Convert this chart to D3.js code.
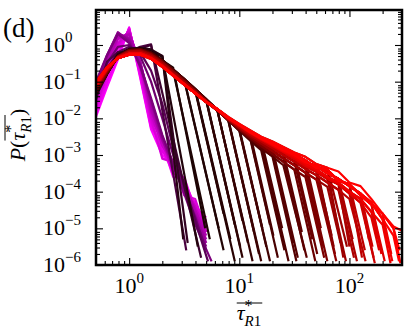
<!DOCTYPE html>
<html>
<head>
<meta charset="utf-8">
<script src="https://cdn.jsdelivr.net/npm/d3@7"></script>
<style>
  body { margin: 0; background: #fff; }
</style>
</head>
<body>
<div id="chart"></div>
<script>
// x bins shared by all curves (0.1 decade apart)
const xBins = [0.5, 0.63, 0.79, 1.0, 1.26, 1.58, 2.0, 2.51, 3.16, 3.98, 5.01, 6.31, 7.94, 10,
  12.6, 15.8, 20, 25.1, 31.6, 39.8, 50.1, 63.1, 79.4, 100, 126, 158, 200, 251, 316];

// magenta -> purple curves: t = colour position, p = log10 P on xBins, end = last point [x, log10 P]
const curvesPink = [
  { t: 0.00, p: [-1.95, -1.15, -0.4, 0.48, -0.9, -2.3, -3.0, -3.3, -3.9, -4.3, -4.9] },
  { t: 0.02, p: [-1.9, -1.05, -0.3, 0.46, -0.85, -2.25, -2.7, -3.6, -3.6, -4.5, -4.7] },
  { t: 0.04, p: [-1.85, -1.0, -0.25, 0.45, -0.8, -2.2, -2.8, -3.5, -3.7, -4.4, -4.8] },
  { t: 0.06, p: [-1.75, -0.85, -0.1, 0.42, -0.7, -2.1, -2.9, -3.3, -4.0, -4.3, -5.0] },
  { t: 0.08, p: [-1.7, -0.78, -0.02, 0.4, -0.65, -2.0, -3.1, -3.2, -4.1, -4.2, -5.1] },
  { t: 0.10, p: [-1.65, -0.7, 0.05, 0.38, -0.6, -1.95, -2.7, -3.4, -3.8, -4.5, -4.9] },
  { t: 0.12, p: [-1.5, -0.55, 0.15, 0.33, -0.5, -1.85, -2.75, -3.2, -3.9, -4.4, -5.1] },
  { t: 0.14, p: [-1.45, -0.5, 0.18, 0.3, -0.48, -1.8, -2.5, -3.5, -3.7, -4.6, -5.0] },
  { t: 0.16, p: [-1.4, -0.45, 0.22, 0.28, -0.45, -1.75, -2.6, -3.3, -3.85, -4.5, -5.2] },
  { t: 0.18, p: [-1.3, -0.35, 0.3, 0.2, -0.45, -1.65, -2.6, -3.25, -3.9, -4.6, -5.3] },
  { t: 0.21, p: [-1.15, -0.3, 0.33, 0.15, -0.5, -1.55, -2.55, -3.3, -4.0, -4.65, -5.4] },
  { t: 0.24, p: [-1.05, -0.28, 0.35, 0.1, -0.6, -1.5, -2.5, -3.2, -4.0, -4.8, -5.5] },
  { t: 0.27, p: [-1.0, -0.27, 0.3, 0.05, -0.55, -1.45, -2.45, -3.25, -4.05, -4.9], end: [5.6, -5.9] },
  { t: 0.30, p: [-1.1, -0.5, -0.05, 0.0, -0.3, -1.0, -2.0, -3.0, -3.9, -4.7, -5.6] },
  { t: 0.33, p: [-1.2, -0.65, -0.2, -0.05, -0.2, -0.7, -1.6, -2.8, -3.8, -4.8], end: [5.2, -5.9] }
];

// near-black curves with early cut-offs
const curvesDark = [
  { t: 0.36, p: [-1.5, -0.45, -0.2, -0.2, -0.05, 0.02], end: [3.3, -5.6] },
  { t: 0.38, p: [-1.4, -0.8, -0.2, -0.2, -0.1, 0.0], end: [4.5, -5.8] },
  { t: 0.40, p: [-1.3, -0.78, -0.27, -0.13, -0.1, -0.15, -0.3], end: [3.4, -5.4] },
  { t: 0.42, p: [-1.35, -0.8, -0.25, -0.1, -0.08, -0.12, -0.3], end: [3.1, -5.3] },
  { t: 0.43, p: [-1.3, -0.75, -0.28, -0.12, -0.1, -0.18, -0.32], end: [4.2, -5.5] },
  { t: 0.44, p: [-1.3, -0.75, -0.3, -0.14, -0.1, -0.2, -0.42, -0.62], end: [4.9, -5.0] },
  { t: 0.45, p: [-1.25, -0.72, -0.3, -0.15, -0.12, -0.22, -0.45, -0.7], end: [5.4, -5.3] }
];

// longer curves follow one of these profiles (log10 P on xBins) until their cut-off,
// from the steepest dark ones (P0) to the flattest red ones (P7..P9)
const P0 = [-1.3, -0.78, -0.3, -0.13, -0.11, -0.2, -0.42, -0.67, -0.93, -1.2, -1.48, -1.76, -2.05, -2.34, -2.61, -2.87, -3.12];
const P1 = [-1.27, -0.76, -0.31, -0.14, -0.12, -0.22, -0.44, -0.69, -0.95, -1.22, -1.5, -1.77, -2.04, -2.31, -2.57, -2.81, -3.04, -3.28, -3.5];
const P2 = [-1.24, -0.74, -0.31, -0.15, -0.13, -0.24, -0.46, -0.72, -0.98, -1.25, -1.52, -1.78, -2.05, -2.3, -2.54, -2.76, -2.97, -3.19, -3.4, -3.6];
const P3 = [-1.2, -0.71, -0.32, -0.17, -0.15, -0.26, -0.48, -0.74, -1.0, -1.26, -1.52, -1.77, -2.03, -2.27, -2.49, -2.69, -2.89, -3.09, -3.28, -3.48, -3.67, -3.87];
const P4 = [-1.15, -0.68, -0.33, -0.19, -0.18, -0.3, -0.53, -0.79, -1.05, -1.3, -1.55, -1.78, -2.02, -2.24, -2.45, -2.63, -2.81, -3.0, -3.18, -3.38, -3.55, -3.75, -3.95, -4.2];
const P5 = [-1.1, -0.65, -0.35, -0.23, -0.22, -0.34, -0.56, -0.81, -1.06, -1.31, -1.55, -1.76, -2.0, -2.2, -2.4, -2.58, -2.75, -2.92, -3.1, -3.3, -3.45, -3.65, -3.8, -4.05, -4.3, -4.7];
const P6 = [-1.05, -0.62, -0.36, -0.26, -0.26, -0.37, -0.59, -0.83, -1.08, -1.32, -1.56, -1.77, -1.99, -2.18, -2.38, -2.55, -2.7, -2.87, -3.0, -3.2, -3.3, -3.5, -3.65, -3.85, -4.05, -4.3, -4.75, -5.2];
const P7 = [-1.0, -0.6, -0.35, -0.27, -0.27, -0.38, -0.6, -0.84, -1.08, -1.32, -1.55, -1.74, -1.96, -2.15, -2.33, -2.5, -2.63, -2.78, -2.93, -3.05, -3.25, -3.35, -3.45, -3.75, -3.85, -4.2, -4.6, -4.95, -5.1];
const P8 = [-1.05, -0.62, -0.36, -0.26, -0.26, -0.36, -0.58, -0.83, -1.07, -1.31, -1.55, -1.75, -1.98, -2.17, -2.36, -2.53, -2.68, -2.83, -2.98, -3.15, -3.35, -3.4, -3.7, -3.8, -4.1, -4.35, -4.6, -5.0];
const P9 = [-1.1, -0.65, -0.35, -0.23, -0.22, -0.35, -0.57, -0.82, -1.07, -1.31, -1.55, -1.76, -1.99, -2.19, -2.39, -2.56, -2.72, -2.9, -3.05, -3.25, -3.4, -3.6, -3.75, -4.0, -4.2, -4.55, -4.9];
const profiles = [P0, P1, P2, P3, P4, P5, P6, P7, P8, P9];

// [last bin index before the drop, profile, drop end x, drop end log10 P]
const curvesLong = [
  [8, 0, 6.5, -5.0], [8, 1, 7.2, -5.6],
  [9, 0, 8.3, -5.3], [9, 2, 7.2, -4.6], [9, 1, 9.1, -5.9],
  [10, 0, 10.2, -5.5], [10, 1, 9.1, -4.9], [10, 2, 10.7, -5.8],
  [11, 1, 12, -5.4], [11, 3, 13.2, -5.9], [11, 0, 10.7, -4.8],
  [12, 0, 15.1, -5.7], [12, 2, 13.6, -5.1], [12, 4, 15.8, -5.9],
  [13, 1, 17.6, -5.5], [13, 3, 16.2, -5.0], [13, 0, 19, -5.9],
  [14, 2, 22.4, -5.8], [14, 4, 20.4, -5.2], [14, 1, 19, -4.9],
  [15, 0, 25.7, -5.6], [15, 3, 28, -5.9], [15, 5, 24.5, -5.0],
  [16, 2, 31, -5.4], [16, 4, 34, -5.8], [16, 1, 33, -5.9],
  [17, 3, 39, -5.6], [17, 5, 37, -5.1], [17, 1, 41, -5.8],
  [18, 2, 49, -5.9], [18, 4, 46, -5.3], [18, 6, 51, -5.7],
  [19, 3, 57, -5.5], [19, 5, 63, -5.9], [19, 8, 55, -5.0], [19, 2, 59, -5.8],
  [20, 4, 74, -5.7], [20, 9, 69, -5.2], [20, 3, 76, -5.9], [20, 6, 72, -5.5],
  [21, 5, 93, -5.9], [21, 3, 83, -5.4], [21, 7, 95, -5.5], [21, 8, 88, -5.8],
  [22, 4, 110, -5.8], [22, 6, 107, -5.3], [22, 9, 117, -5.9], [22, 5, 100, -5.5],
  [23, 8, 138, -5.6], [23, 4, 140, -5.9], [23, 5, 123, -5.2], [23, 6, 130, -5.8],
  [24, 9, 166, -5.8], [24, 6, 162, -5.5], [24, 5, 170, -5.95], [24, 8, 150, -5.3],
  [25, 8, 209, -5.9], [25, 5, 186, -5.6], [25, 9, 182, -5.3], [25, 6, 195, -5.7],
  [26, 6, 245, -5.9], [26, 8, 240, -5.7], [26, 9, 236, -5.95], [26, 6, 230, -5.5],
  [27, 6, 282, -5.9], [27, 8, 285, -5.6], [27, 8, 290, -5.95],
  [28, 7, 330, -5.4]
];

const xMajor = [1, 10, 100];
const xMinor = [0.6, 0.7, 0.8, 0.9, 2, 3, 4, 5, 6, 7, 8, 9, 20, 30, 40, 50, 60, 70, 80, 90, 200];
const yExponents = [0, -1, -2, -3, -4, -5, -6];
const xExponents = [0, 1, 2];

const W = 415, H = 332;
const plot = { left: 96, right: 402, top: 10, bottom: 265 };

// pick a serif face that is really installed; sizes were set for Liberation Serif
function hasFont(name) {
  const ctx = document.createElement('canvas').getContext('2d');
  const probe = 'mmmwwwlli10\u03c4PR';
  ctx.font = '40px monospace';
  const base = ctx.measureText(probe).width;
  ctx.font = `40px "${name}", monospace`;
  return ctx.measureText(probe).width !== base;
}
const fontChoices = [['Liberation Serif', 1], ['DejaVu Serif', 0.86], ['Noto Serif', 0.9]];
const picked = fontChoices.find(f => hasFont(f[0])) || ['serif', 1];
const FONT = `"${picked[0]}", serif`;
const fs = s => s * picked[1];

const svg = d3.select('#chart').append('svg')
  .attr('width', W).attr('height', H)
  .attr('font-family', FONT)
  .style('display', 'block');

svg.append('rect').attr('width', W).attr('height', H).attr('fill', '#fff');

const x = d3.scaleLog().domain([0.5, 300]).range([plot.left, plot.right]);
const y = d3.scaleLog().domain([1e-6, 9]).range([plot.bottom, plot.top]);

const color = d3.scaleLinear()
  .domain([0, 0.3, 0.44, 0.72, 1])
  .range(['#ff00ff', '#6e006e', '#1c0404', '#5c0000', '#ff0000'])
  .interpolate(d3.interpolateRgb);

svg.append('clipPath').attr('id', 'clip')
  .append('rect')
  .attr('x', plot.left).attr('y', plot.top)
  .attr('width', plot.right - plot.left).attr('height', plot.bottom - plot.top);

function toPoints(p, end) {
  const pts = p.map((v, i) => [xBins[i], Math.pow(10, v)]);
  if (end) pts.push([end[0], Math.pow(10, end[1])]);
  return pts;
}

// colour of the long curves follows where they are cut off
const cutColor = d3.scaleLinear().domain([8, 27]).range([0.46, 1]).clamp(true);

const curves = [
  ...curvesPink.map(c => ({ t: c.t, pts: toPoints(c.p, c.end) })),
  ...curvesDark.map(c => ({ t: c.t, pts: toPoints(c.p, c.end) })),
  ...curvesLong.map(([cut, prof, ex, ey]) => ({
    t: cutColor(cut),
    pts: toPoints(profiles[prof].slice(0, cut + 1), [ex, ey])
  }))
].sort((a, b) => a.t - b.t);

const line = d3.line().x(d => x(d[0])).y(d => y(d[1]));

svg.append('g')
  .attr('clip-path', 'url(#clip)')
  .selectAll('path')
  .data(curves)
  .join('path')
  .attr('d', d => line(d.pts))
  .attr('fill', 'none')
  .attr('stroke', d => color(d.t))
  .attr('stroke-width', 2.2)
  .attr('stroke-linejoin', 'round');

// ticks on all four sides, pointing in
const yMajor = yExponents.map(e => Math.pow(10, e));
const yMinor = [];
yExponents.forEach(e => { for (let k = 2; k <= 8; k++) yMinor.push(k * Math.pow(10, e)); });

function tickGroup(axis, tx, ty) {
  const g = svg.append('g').attr('transform', `translate(${tx},${ty})`).call(axis);
  g.select('.domain').remove();
  g.selectAll('line').attr('stroke', '#000').attr('stroke-width', 1.1);
  g.selectAll('text').remove();
}
tickGroup(d3.axisBottom(x).tickValues(xMajor).tickSize(-7).tickFormat(''), 0, plot.bottom);
tickGroup(d3.axisBottom(x).tickValues(xMinor).tickSize(-4).tickFormat(''), 0, plot.bottom);
tickGroup(d3.axisTop(x).tickValues(xMajor).tickSize(-7).tickFormat(''), 0, plot.top);
tickGroup(d3.axisTop(x).tickValues(xMinor).tickSize(-4).tickFormat(''), 0, plot.top);
tickGroup(d3.axisLeft(y).tickValues(yMajor).tickSize(-7).tickFormat(''), plot.left, 0);
tickGroup(d3.axisLeft(y).tickValues(yMinor).tickSize(-4).tickFormat(''), plot.left, 0);
tickGroup(d3.axisRight(y).tickValues(yMajor).tickSize(-7).tickFormat(''), plot.right, 0);
tickGroup(d3.axisRight(y).tickValues(yMinor).tickSize(-4).tickFormat(''), plot.right, 0);

svg.append('rect')
  .attr('x', plot.left).attr('y', plot.top)
  .attr('width', plot.right - plot.left).attr('height', plot.bottom - plot.top)
  .attr('fill', 'none').attr('stroke', '#000').attr('stroke-width', 2.5);

// small mathtext-ish layout: runs placed one after another, "stack" starts at the previous run's x
function mathRuns(parent, runs, px, py, anchor) {
  const g = parent.append('g');
  let cx = 0, lastStart = 0;
  const spans = [];
  runs.forEach(r => {
    const start = r.stack ? lastStart : cx;
    const t = g.append('text')
      .attr('x', start).attr('y', r.dy || 0)
      .attr('font-family', FONT)
      .attr('font-size', fs(r.size))
      .attr('font-style', r.it ? 'italic' : 'normal')
      .attr('fill', '#000')
      .text(r.s);
    const w = t.node().getComputedTextLength();
    spans.push([start, start + w, t]);
    lastStart = start;
    cx = Math.max(cx, start + w);
  });
  const shift = anchor === 'middle' ? -cx / 2 : anchor === 'end' ? -cx : 0;
  spans.forEach(s => s[2].attr('x', +s[2].attr('x') + shift));
  g.attr('transform', `translate(${px},${py})`);
  return spans.map(s => [s[0] + shift, s[1] + shift]);
}

const sup = e => (e < 0 ? '\u2212' + (-e) : String(e));

yExponents.forEach(e => {
  mathRuns(svg, [{ s: '10', size: 22 }, { s: sup(e), size: 15, dy: -10 }],
    43, y(Math.pow(10, e)) + 7, 'start');
});

xExponents.forEach(e => {
  mathRuns(svg, [{ s: '10', size: 22 }, { s: sup(e), size: 15, dy: -10 }],
    x(Math.pow(10, e)), 293, 'middle');
});

// x label: overline tau*_R1
const xl = mathRuns(svg, [
  { s: '\u03c4', size: 22, it: true },
  { s: '*', size: 16, dy: -9 },
  { s: 'R', size: 15, it: true, dy: 6, stack: true },
  { s: '1', size: 15, dy: 6 }
], 249, 320, 'middle');
svg.append('line')
  .attr('x1', 249 + xl[0][0]).attr('x2', 249 + xl[3][1] + 1)
  .attr('y1', 303).attr('y2', 303)
  .attr('stroke', '#000').attr('stroke-width', 1);

// y label, rotated
const yg = svg.append('g').attr('transform', 'translate(25,135) rotate(-90)');
const yl = mathRuns(yg, [
  { s: 'P', size: 22, it: true },
  { s: '(', size: 22 },
  { s: '\u03c4', size: 22, it: true },
  { s: '*', size: 16, dy: -9 },
  { s: 'R', size: 15, it: true, dy: 6, stack: true },
  { s: '1', size: 15, dy: 6 },
  { s: ')', size: 22 }
], 0, 0, 'middle');
yg.append('line')
  .attr('x1', yl[2][0]).attr('x2', yl[5][1] + 1)
  .attr('y1', -20).attr('y2', -20)
  .attr('stroke', '#000').attr('stroke-width', 1);

svg.append('text')
  .attr('x', 3).attr('y', 37)
  .attr('font-family', FONT)
  .attr('font-size', fs(27))
  .text('(d)');
</script>
</body>
</html>
